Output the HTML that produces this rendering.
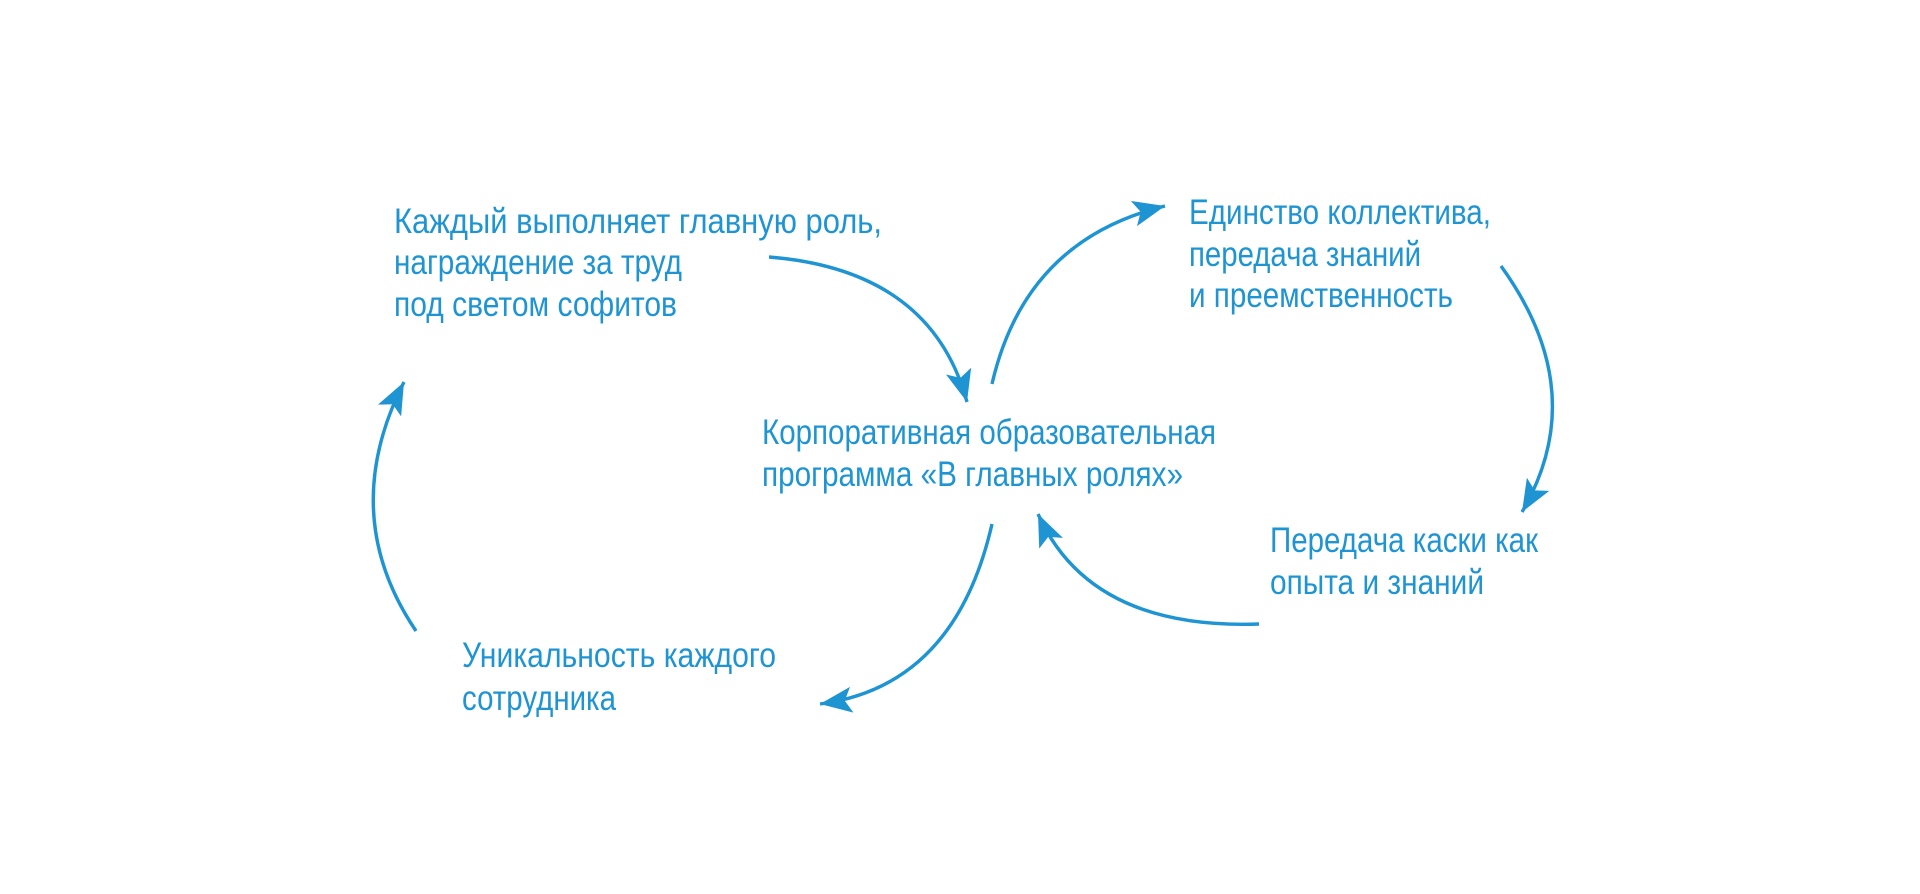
<!DOCTYPE html>
<html><head><meta charset="utf-8"><style>
html,body{margin:0;padding:0;background:#fff;}
svg{display:block}
text{font-family:"Liberation Sans Narrow","Liberation Sans",sans-serif;font-size:35px;fill:#1e94d2;}
</style></head><body>
<svg width="1920" height="894" viewBox="0 0 1920 894" xmlns="http://www.w3.org/2000/svg">
<defs>
<marker id="ah" markerUnits="userSpaceOnUse" markerWidth="36" markerHeight="28" refX="32" refY="13" orient="auto">
<path d="M0,0 L32,13 L0,26 L7,13 z" fill="#1e94d2"/>
</marker>
</defs>
<g fill="none" stroke="#1e94d2" stroke-width="3.4" marker-end="url(#ah)">
<path d="M769,257 Q931,270 967,402"/>
<path d="M992,384 Q1025,240 1165,206"/>
<path d="M1501,266 Q1592,392 1522,512"/>
<path d="M1259,624 Q1090,630 1038,514"/>
<path d="M992,524 Q955,686 820,704"/>
<path d="M416,631 Q337,514 404,382"/>
</g>
<g>
<text x="394" y="233" textLength="488" lengthAdjust="spacingAndGlyphs">Каждый выполняет главную роль,</text>
<text x="394" y="274" textLength="288" lengthAdjust="spacingAndGlyphs">награждение за труд</text>
<text x="394" y="316" textLength="283" lengthAdjust="spacingAndGlyphs">под светом софитов</text>
<text x="1189" y="224" textLength="302" lengthAdjust="spacingAndGlyphs">Единство коллектива,</text>
<text x="1189" y="266" textLength="232" lengthAdjust="spacingAndGlyphs">передача знаний</text>
<text x="1189" y="307" textLength="264" lengthAdjust="spacingAndGlyphs">и преемственность</text>
<text x="762" y="444" textLength="454" lengthAdjust="spacingAndGlyphs">Корпоративная образовательная</text>
<text x="762" y="486" textLength="421" lengthAdjust="spacingAndGlyphs">программа «В главных ролях»</text>
<text x="1270" y="552" textLength="268" lengthAdjust="spacingAndGlyphs">Передача каски как</text>
<text x="1270" y="594" textLength="214" lengthAdjust="spacingAndGlyphs">опыта и знаний</text>
<text x="462" y="667" textLength="314" lengthAdjust="spacingAndGlyphs">Уникальность каждого</text>
<text x="462" y="710" textLength="154" lengthAdjust="spacingAndGlyphs">сотрудника</text>
</g>
</svg>
</body></html>
